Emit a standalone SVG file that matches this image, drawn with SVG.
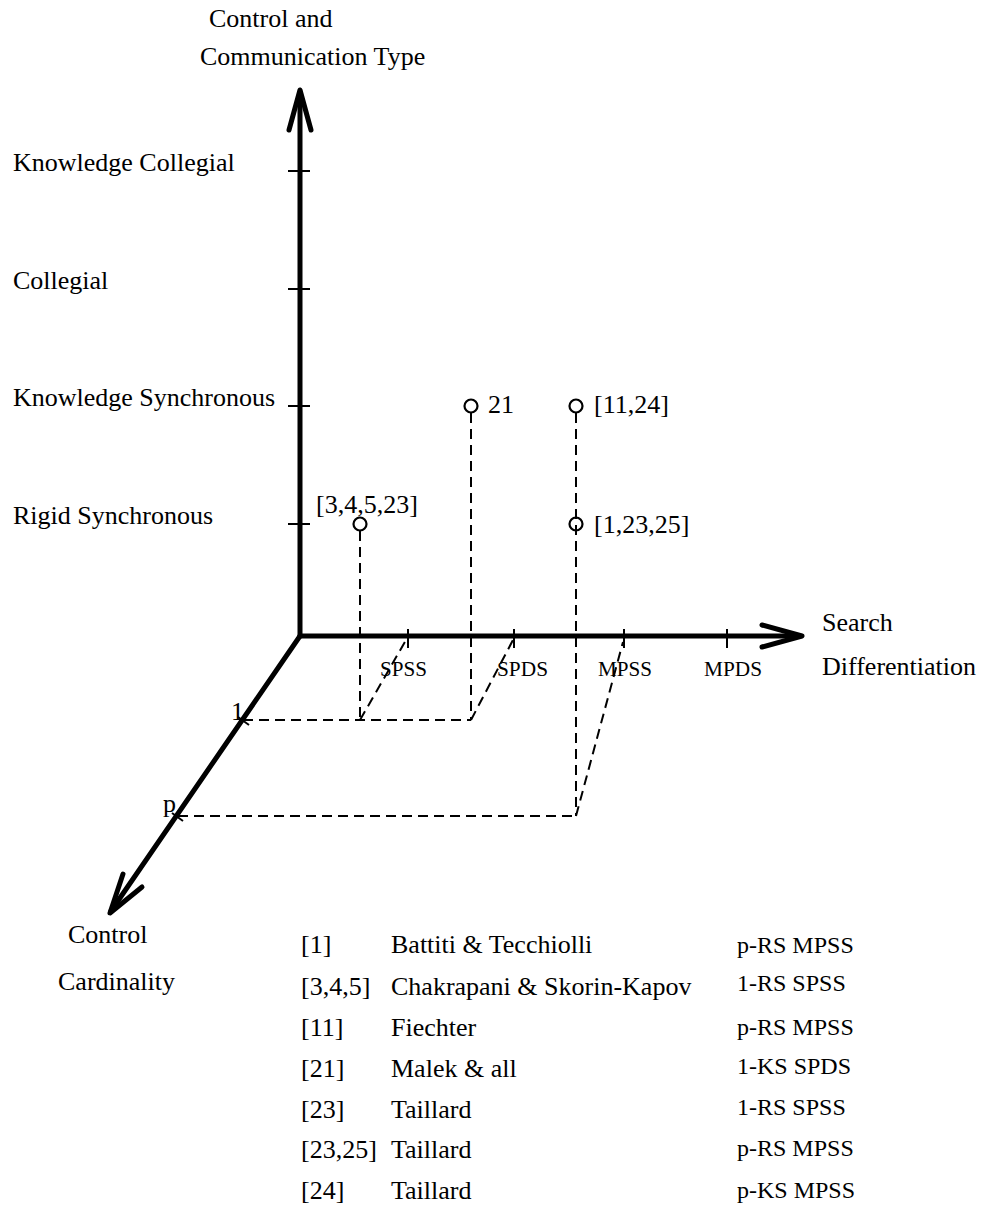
<svg xmlns="http://www.w3.org/2000/svg" width="991" height="1214" viewBox="0 0 991 1214">
<style>
text{font-family:"Liberation Serif","Times New Roman",serif;fill:#000}
.t{font-size:26px}
.s{font-size:22px}
.c{font-size:24px}
.axis{stroke:#000;stroke-width:5;fill:none;stroke-linecap:round;stroke-linejoin:round}
.tick{stroke:#000;stroke-width:2;fill:none}
.dash{stroke:#000;stroke-width:2;fill:none;stroke-dasharray:10 6}
.pt{stroke:#000;stroke-width:2.2;fill:#fff}
</style>
<rect width="991" height="1214" fill="#fff"/>
<g id="axes">
<line class="axis" x1="300" y1="636" x2="300" y2="92"/>
<polyline class="axis" points="289,130 300,90 311,130"/>
<line class="axis" x1="300" y1="636" x2="800" y2="636"/>
<polyline class="axis" points="762,625 802,636 762,647"/>
<line class="axis" x1="300" y1="636" x2="111" y2="911"/>
<polyline class="axis" points="123,874 110,913 142,887"/>
<g id="ticks">
<line class="tick" x1="288" y1="171" x2="310" y2="171"/>
<line class="tick" x1="288" y1="289" x2="310" y2="289"/>
<line class="tick" x1="288" y1="406" x2="310" y2="406"/>
<line class="tick" x1="288" y1="524" x2="310" y2="524"/>
<line class="tick" x1="408" y1="629" x2="408" y2="648"/>
<line class="tick" x1="514" y1="629" x2="514" y2="648"/>
<line class="tick" x1="624" y1="629" x2="624" y2="648"/>
<line class="tick" x1="727" y1="629" x2="727" y2="648"/>
<line class="tick" x1="238" y1="717" x2="249" y2="725"/>
<line class="tick" x1="172" y1="813" x2="183" y2="821"/>
</g>
</g>
<g id="axis-labels">
<text class="t" x="209" y="27">Control and</text>
<text class="t" x="200" y="65">Communication Type</text>
<text class="t" x="13" y="171">Knowledge Collegial</text>
<text class="t" x="13" y="289">Collegial</text>
<text class="t" x="13" y="406">Knowledge Synchronous</text>
<text class="t" x="13" y="524">Rigid Synchronous</text>
<text class="t" x="822" y="631">Search</text>
<text class="t" x="822" y="675">Differentiation</text>
<text class="s" x="380" y="676" textLength="47" lengthAdjust="spacingAndGlyphs">SPSS</text>
<text class="s" x="497" y="676" textLength="51" lengthAdjust="spacingAndGlyphs">SPDS</text>
<text class="s" x="598" y="676" textLength="54" lengthAdjust="spacingAndGlyphs">MPSS</text>
<text class="s" x="704" y="676" textLength="58" lengthAdjust="spacingAndGlyphs">MPDS</text>
<text class="t" x="231" y="720">1</text>
<text class="t" x="163" y="812">p</text>
<text class="t" x="68" y="943">Control</text>
<text class="t" x="58" y="990">Cardinality</text>
</g>
<g id="connectors">
<line class="dash" x1="360" y1="531" x2="360" y2="720"/>
<line class="dash" x1="471" y1="413" x2="471" y2="720"/>
<line class="dash" x1="576" y1="413" x2="576" y2="816"/>
<line class="dash" x1="243" y1="720" x2="471" y2="720"/>
<line class="dash" x1="178" y1="816" x2="576" y2="816"/>
<line class="dash" x1="360" y1="720" x2="406" y2="640"/>
<line class="dash" x1="471" y1="720" x2="513" y2="640"/>
<line class="dash" x1="576" y1="816" x2="623" y2="642"/>
</g>
<g id="node-21">
<circle class="pt" cx="471" cy="406" r="6.5"/>
<text class="t" x="488" y="413">21</text>
</g>
<g id="node-11-24">
<circle class="pt" cx="576" cy="406" r="6.5"/>
<text class="t" x="594" y="413">[11,24]</text>
</g>
<g id="node-3-4-5-23">
<circle class="pt" cx="360" cy="524" r="6.5"/>
<text class="t" x="316" y="513">[3,4,5,23]</text>
</g>
<g id="node-1-23-25">
<circle cx="576" cy="524" r="6.5" stroke="#000" stroke-width="2.2" fill="none"/>
<text class="t" x="594" y="533">[1,23,25]</text>
</g>
<g id="legend">
<text class="t" x="301" y="953">[1]</text>
<text class="t" x="391" y="953">Battiti &amp; Tecchiolli</text>
<text class="c" x="737" y="953">p-RS MPSS</text>
<text class="t" x="301" y="995">[3,4,5]</text>
<text class="t" x="391" y="995">Chakrapani &amp; Skorin-Kapov</text>
<text class="c" x="737" y="991">1-RS SPSS</text>
<text class="t" x="301" y="1036">[11]</text>
<text class="t" x="391" y="1036">Fiechter</text>
<text class="c" x="737" y="1035">p-RS MPSS</text>
<text class="t" x="301" y="1077">[21]</text>
<text class="t" x="391" y="1077">Malek &amp; all</text>
<text class="c" x="737" y="1074">1-KS SPDS</text>
<text class="t" x="301" y="1118">[23]</text>
<text class="t" x="391" y="1118">Taillard</text>
<text class="c" x="737" y="1115">1-RS SPSS</text>
<text class="t" x="301" y="1158">[23,25]</text>
<text class="t" x="391" y="1158">Taillard</text>
<text class="c" x="737" y="1156">p-RS MPSS</text>
<text class="t" x="301" y="1199">[24]</text>
<text class="t" x="391" y="1199">Taillard</text>
<text class="c" x="737" y="1198">p-KS MPSS</text>
</g>
</svg>
